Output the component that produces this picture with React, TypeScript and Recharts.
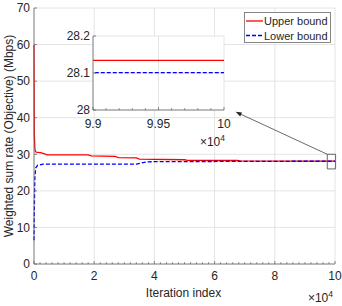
import { LineChart, Line, XAxis, YAxis, CartesianGrid, ReferenceArea, ReferenceLine } from 'recharts';

// ── Data ───────────────────────────────────────────────────────────────────
const upperIter = [0, 100, 250, 400, 700, 1500, 2500, 3500, 4500, 18000, 19000, 27000, 28000, 34000, 35000, 50000, 51000, 67500, 68500, 90000, 100000];
const upperRate = [59.9, 36, 32, 30.9, 30.6, 30.5, 30.4, 30.1, 29.85, 29.85, 29.55, 29.45, 29.1, 29.0, 28.65, 28.5, 28.35, 28.3, 28.2, 28.134, 28.134];

const lowerIter = [0, 100, 200, 300, 600, 1200, 3000, 34000, 35500, 37500, 40000, 70000, 90000, 100000];
const lowerRate = [6.5, 14, 20, 24, 26.3, 27.0, 27.3, 27.3, 27.6, 27.9, 28.0, 28.05, 28.101, 28.101];

const seriesNames = ['Upper bound', 'Lower bound'];

const xMajor = [0, 20000, 40000, 60000, 80000, 100000];
const yMajor = [0, 10, 20, 30, 40, 50, 60, 70];
const insetXMajor = [99000, 99500, 100000];
const insetXLabels = ['9.9', '9.95', '10'];
const insetYMajor = [28, 28.1, 28.2];
const insetYLabels = ['28', '28.1', '28.2'];

// minor tick positions (every 2000 on main, every 100 on inset)
const xMinor = Array.from({ length: 51 }, (_, i) => i * 2000);
const insetXMinor = Array.from({ length: 11 }, (_, i) => 99000 + i * 100);

const upperData = upperIter.map((it, i) => ({ iter: it, rate: upperRate[i] }));
const lowerData = lowerIter.map((it, i) => ({ iter: it, rate: lowerRate[i] }));

const FONT = "'Liberation Sans', Arial, Helvetica, sans-serif";
const TEXT = '#262626';
const AXIS = '#6a6a6a';
const GRID = '#e4e4e4';
const RED = '#ff0000';
const BLUE = '#0000ff';

const txt = { fontFamily: FONT, fontSize: 12, fill: TEXT };

// ── Tick renderers (inward ticks, MATLAB style) ────────────────────────────
function BottomTick({ x, y, payload }: any) {
  const v = payload.value;
  const major = xMajor.includes(v);
  return (
    <g>
      <line x1={x} x2={x} y1={y} y2={y - (major ? 3 : 1.8)} stroke={AXIS} strokeWidth={0.8} />
      {major && <text x={x} y={y + 16} textAnchor="middle" {...txt}>{v / 1e4}</text>}
      {v === 100000 && (
        <text x={x - 2} y={y + 38} textAnchor="end" {...txt}>
          ×10<tspan dy={-5} fontSize={8.5}>4</tspan>
        </text>
      )}
    </g>
  );
}

function TopTick({ x, y, payload }: any) {
  const major = xMajor.includes(payload.value);
  return <line x1={x} x2={x} y1={y} y2={y + (major ? 3 : 1.8)} stroke={AXIS} strokeWidth={0.8} />;
}

function LeftTick({ x, y, payload }: any) {
  return (
    <g>
      <line x1={x} x2={x + 3} y1={y} y2={y} stroke={AXIS} strokeWidth={0.8} />
      <text x={x - 4} y={y + 4.3} textAnchor="end" {...txt}>{payload.value}</text>
    </g>
  );
}

function RightTick({ x, y }: any) {
  return <line x1={x} x2={x - 3} y1={y} y2={y} stroke={AXIS} strokeWidth={0.8} />;
}

function InsetBottomTick({ x, y, payload }: any) {
  const v = payload.value;
  const idx = insetXMajor.indexOf(v);
  return (
    <g>
      <line x1={x} x2={x} y1={y} y2={y - (idx >= 0 ? 3 : 1.8)} stroke={AXIS} strokeWidth={0.8} />
      {idx >= 0 && <text x={x} y={y + 17.5} textAnchor="middle" {...txt}>{insetXLabels[idx]}</text>}
      {v === 100000 && (
        <text x={x + 1} y={y + 35.5} textAnchor="end" {...txt}>
          ×10<tspan dy={-5} fontSize={8.5}>4</tspan>
        </text>
      )}
    </g>
  );
}

function InsetTopTick({ x, y, payload }: any) {
  const major = insetXMajor.includes(payload.value);
  return <line x1={x} x2={x} y1={y} y2={y + (major ? 3 : 1.8)} stroke={AXIS} strokeWidth={0.8} />;
}

function InsetLeftTick({ x, y, index }: any) {
  return (
    <g>
      <line x1={x} x2={x + 3} y1={y} y2={y} stroke={AXIS} strokeWidth={0.8} />
      <text x={x - 3} y={y + 4.3} textAnchor="end" {...txt}>{insetYLabels[index]}</text>
    </g>
  );
}

function ArrowShape(props: any) {
  const { x1, y1, x2, y2 } = props;
  const ang = Math.atan2(y2 - y1, x2 - x1);
  const L = 6, W = 2.2;
  const bx = x2 - L * Math.cos(ang);
  const by = y2 - L * Math.sin(ang);
  const px = -Math.sin(ang) * W;
  const py = Math.cos(ang) * W;
  return (
    <g>
      <line x1={x1} y1={y1} x2={bx} y2={by} stroke="#444" strokeWidth={0.8} />
      <polygon points={`${x2},${y2} ${bx + px},${by + py} ${bx - px},${by - py}`} fill="#222" />
    </g>
  );
}

export default function App() {
  return (
    <div style={{ position: 'absolute', left: 0, top: 0, width: 342, height: 306, background: '#fff' }}>
      {/* ── Main axes ── */}
      <LineChart width={342} height={306} margin={{ top: 8, right: 7, bottom: 0, left: 0 }}>
        <CartesianGrid stroke={GRID} verticalValues={xMajor} horizontalValues={yMajor} />
        <XAxis
          dataKey="iter" type="number" domain={[0, 100000]} ticks={xMinor} interval={0}
          height={42} tickSize={0} tickMargin={0} tickLine={false}
          axisLine={{ stroke: AXIS, strokeWidth: 0.8 }} tick={<BottomTick />}
          label={{
            content: ({ viewBox }: any) => (
              <text x={viewBox.x + viewBox.width / 2 - 1} y={viewBox.y + 33} textAnchor="middle" {...txt}>
                Iteration index
              </text>
            ),
          }}
        />
        <XAxis
          xAxisId="top" orientation="top" type="number" domain={[0, 100000]} ticks={xMinor} interval={0}
          height={0} tickSize={0} tickMargin={0} tickLine={false} allowDataOverflow
          axisLine={{ stroke: AXIS, strokeWidth: 0.8 }} tick={<TopTick />}
        />
        <YAxis
          type="number" domain={[0, 70]} ticks={yMajor} interval={0} width={34}
          tickSize={0} tickMargin={0} tickLine={false}
          axisLine={{ stroke: AXIS, strokeWidth: 0.8 }} tick={<LeftTick />}
          label={{
            content: ({ viewBox }: any) => {
              const cx = viewBox.x + 12.6;
              const cy = viewBox.y + viewBox.height / 2;
              return (
                <text x={cx} y={cy} transform={`rotate(-90 ${cx} ${cy})`} textAnchor="middle" {...txt}>
                  Weighted sum rate (Objective) (Mbps)
                </text>
              );
            },
          }}
        />
        <YAxis
          yAxisId="right" orientation="right" type="number" domain={[0, 70]} ticks={yMajor} interval={0}
          width={0} tickSize={0} tickMargin={0} tickLine={false} allowDataOverflow
          axisLine={{ stroke: AXIS, strokeWidth: 0.8 }} tick={<RightTick />}
        />
        <Line data={upperData} dataKey="rate" name={seriesNames[0]} stroke={RED} strokeWidth={1.3}
          dot={false} activeDot={false} isAnimationActive={false} />
        <Line data={lowerData} dataKey="rate" name={seriesNames[1]} stroke={BLUE} strokeWidth={1.3}
          strokeDasharray="4 2" dot={false} activeDot={false} isAnimationActive={false} />
        <ReferenceArea x1={97440} x2={100200} y1={26} y2={30} ifOverflow="visible"
          fill="none" stroke="#444" strokeWidth={0.8} />
        <ReferenceLine segment={[{ x: 97440, y: 30 }, { x: 67000, y: 41.6 }]} ifOverflow="visible"
          shape={ArrowShape} />
      </LineChart>

      {/* ── Inset (zoom on the last iterations) ── */}
      <div style={{ position: 'absolute', left: 53, top: 30 }}>
        <LineChart width={180} height={118} margin={{ top: 6, right: 9, bottom: 0, left: 0 }}>
          <CartesianGrid stroke={GRID} fill="#fff" verticalValues={insetXMajor} horizontalValues={insetYMajor} />
          <XAxis
            dataKey="iter" type="number" domain={[99000, 100000]} ticks={insetXMinor} interval={0}
            height={38} tickSize={0} tickMargin={0} tickLine={false} allowDataOverflow
            axisLine={{ stroke: AXIS, strokeWidth: 0.8 }} tick={<InsetBottomTick />}
          />
          <XAxis
            xAxisId="top" orientation="top" type="number" domain={[99000, 100000]} ticks={insetXMinor} interval={0}
            height={0} tickSize={0} tickMargin={0} tickLine={false} allowDataOverflow
            axisLine={{ stroke: AXIS, strokeWidth: 0.8 }} tick={<InsetTopTick />}
          />
          <YAxis
            type="number" domain={[28, 28.2]} ticks={insetYMajor} interval={0} width={40}
            tickSize={0} tickMargin={0} tickLine={false} allowDataOverflow
            axisLine={{ stroke: AXIS, strokeWidth: 0.8 }} tick={<InsetLeftTick />}
          />
          <YAxis
            yAxisId="right" orientation="right" type="number" domain={[28, 28.2]} ticks={insetYMajor} interval={0}
            width={0} tickSize={0} tickMargin={0} tickLine={false} allowDataOverflow
            axisLine={{ stroke: AXIS, strokeWidth: 0.8 }} tick={<RightTick />}
          />
          <Line data={upperData} dataKey="rate" stroke={RED} strokeWidth={1.3}
            dot={false} activeDot={false} isAnimationActive={false} />
          <Line data={lowerData} dataKey="rate" stroke={BLUE} strokeWidth={1.3}
            strokeDasharray="4 2" dot={false} activeDot={false} isAnimationActive={false} />
        </LineChart>
      </div>

      {/* ── Legend ── */}
      <svg style={{ position: 'absolute', left: 244, top: 12 }} width={87} height={31}>
        <rect x={0.5} y={0.5} width={86} height={30} fill="#fff" stroke={AXIS} strokeWidth={0.8} />
        {seriesNames.map((name, i) => (
          <g key={name}>
            <line x1={2} x2={19} y1={9 + i * 14.5} y2={9 + i * 14.5}
              stroke={i === 0 ? RED : BLUE} strokeWidth={1.3} strokeDasharray={i === 0 ? undefined : '4 2'} />
            <text x={20} y={13 + i * 14.5} {...txt} fontSize={11}>{name}</text>
          </g>
        ))}
      </svg>
    </div>
  );
}
